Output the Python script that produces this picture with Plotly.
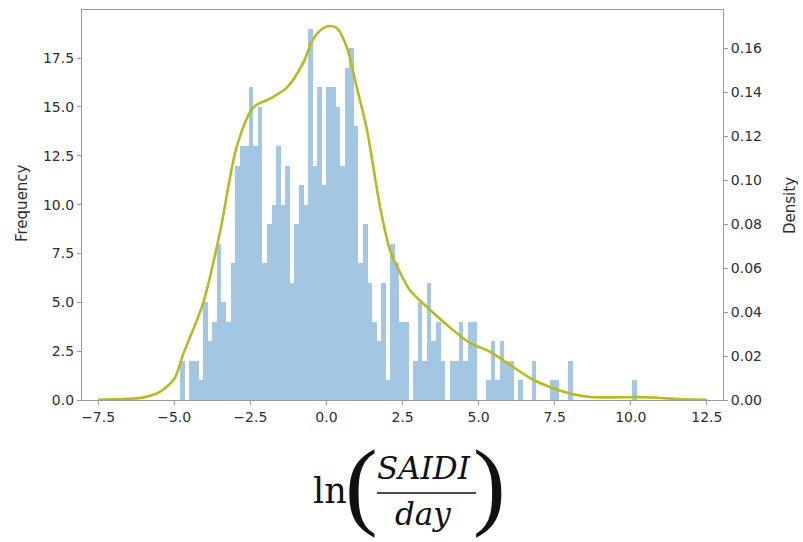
import plotly.graph_objects as go

# ---------------- data ----------------
bin_start = -4.8
bin_width = 0.15
counts = [2, 0, 2, 2, 1, 5, 3, 4, 8, 5,
          4, 7, 12, 13, 13, 16, 13, 15, 7, 9,
          10, 13, 10, 12, 6, 9, 11, 10, 19, 12,
          16, 11, 16, 16, 15, 12, 17, 18, 14, 7,
          9, 6, 4, 3, 6, 1, 8, 7, 4, 4,
          0, 2, 5, 2, 6, 3, 4, 2, 0, 2,
          2, 4, 2, 4, 4, 0, 0, 1, 3, 1,
          3, 2, 2, 0, 1, 0, 0, 2, 0, 0,
          0, 1, 1, 0, 0, 2, 0, 0, 0, 0,
          0, 0, 0, 0, 0, 0, 0, 0, 0, 1]

kde_x = [-7.5, -7.0, -6.5, -6.0, -5.5, -5.0, -4.7, -4.05, -3.5, -2.95,
         -2.4, -1.85, -1.3, -0.77, -0.44, -0.11, 0.12, 0.35, 0.68, 1.0,
         1.33, 1.76, 2.09, 2.42, 2.74, 3.4, 4.06, 4.71, 5.37, 6.03,
         6.69, 7.34, 8.0, 8.66, 9.3, 10.3, 11.0, 11.7, 12.5]
kde_y = [0.0001, 0.0003, 0.0005, 0.0012, 0.0035, 0.0095, 0.021, 0.044, 0.076, 0.115,
         0.133, 0.137, 0.142, 0.153, 0.164, 0.169, 0.170, 0.169, 0.160, 0.142,
         0.123, 0.088, 0.068, 0.058, 0.050, 0.041, 0.033, 0.026, 0.022, 0.016,
         0.010, 0.0059, 0.003, 0.0014, 0.0012, 0.0013, 0.0009, 0.0003, 0.0001]

x_ticks = [-7.5, -5.0, -2.5, 0.0, 2.5, 5.0, 7.5, 10.0, 12.5]
freq_ticks = [0.0, 2.5, 5.0, 7.5, 10.0, 12.5, 15.0, 17.5]
dens_ticks = [0.00, 0.02, 0.04, 0.06, 0.08, 0.10, 0.12, 0.14, 0.16]

# ---------------- figure ----------------
centers = [bin_start + bin_width * (i + 0.5) for i in range(len(counts))]

TXT = "#2e2e2e"
SPINE = "#9a9a9a"
W, H = 803, 542
L, R, T, B = 82, 723, 10, 400

fig = go.Figure()
fig.add_trace(go.Bar(x=centers, y=counts, width=bin_width,
                     marker=dict(color="#a3c6e3", line=dict(width=0)),
                     showlegend=False, hoverinfo="skip"))
fig.add_trace(go.Scatter(x=kde_x, y=kde_y, yaxis="y2", mode="lines",
                         line=dict(color="#b7bb1f", width=2.6, shape="spline", smoothing=0.8),
                         showlegend=False, hoverinfo="skip"))

axis_common = dict(showgrid=False, zeroline=False, ticks="outside", ticklen=4,
                   tickcolor=SPINE, tickwidth=1,
                   tickfont=dict(family="DejaVu Sans", size=14, color=TXT))

fig.update_layout(
    width=W, height=H,
    margin=dict(l=L, r=W - R, t=T, b=H - B),
    paper_bgcolor="white", plot_bgcolor="white",
    bargap=0,
    xaxis=dict(range=[-8.03, 13.03], tickvals=x_ticks,
               ticktext=[f"{v:.1f}".replace("-", "\u2212") for v in x_ticks],
               showline=True, linecolor=SPINE, linewidth=1.2, mirror=True,
               **axis_common),
    yaxis=dict(range=[0, 19.96], tickvals=freq_ticks,
               ticktext=[f"{v:.1f}" for v in freq_ticks],
               showline=True, linecolor=SPINE, linewidth=1.2, mirror=True,
               **axis_common),
    yaxis2=dict(range=[0, 0.1773], overlaying="y", side="right",
                tickvals=dens_ticks, ticktext=[f"{v:.2f}" for v in dens_ticks],
                showline=False, **axis_common),
)

def px(xp):
    return (xp - L) / (R - L)

def py(yp):
    return (B - yp) / (B - T)

ann = []
ann.append(dict(text="Frequency", x=px(22), y=py(203), xref="paper", yref="paper",
                textangle=-90, showarrow=False, xanchor="center", yanchor="middle",
                font=dict(family="DejaVu Sans", size=15, color=TXT)))
ann.append(dict(text="Density", x=px(790), y=py(205), xref="paper", yref="paper",
                textangle=-90, showarrow=False, xanchor="center", yanchor="middle",
                font=dict(family="DejaVu Sans", size=15, color=TXT)))

mathfont = "DejaVu Serif"
ann.append(dict(text="ln", x=px(330), y=py(491), xref="paper", yref="paper",
                showarrow=False, xanchor="center", yanchor="middle",
                font=dict(family=mathfont, size=35, color="#111111")))
ann.append(dict(text="(", x=px(361), y=py(484), xref="paper", yref="paper",
                showarrow=False, xanchor="center", yanchor="middle",
                font=dict(family="Liberation Serif", size=98, color="#111111")))
ann.append(dict(text=")", x=px(489), y=py(484), xref="paper", yref="paper",
                showarrow=False, xanchor="center", yanchor="middle",
                font=dict(family="Liberation Serif", size=98, color="#111111")))
ann.append(dict(text="<i>SAIDI</i>", x=px(424), y=py(468), xref="paper", yref="paper",
                showarrow=False, xanchor="center", yanchor="middle",
                font=dict(family=mathfont, size=31, color="#111111")))
ann.append(dict(text="<i>day</i>", x=px(423), y=py(514), xref="paper", yref="paper",
                showarrow=False, xanchor="center", yanchor="middle",
                font=dict(family=mathfont, size=31, color="#111111")))
fig.update_layout(annotations=ann)

fig.add_shape(type="line", xref="paper", yref="paper",
              x0=px(377), x1=px(476), y0=py(493), y1=py(493),
              line=dict(color="#111111", width=1.6))

fig.write_html("out.html", config={"displayModeBar": False},
               post_script="document.body.style.margin='0';document.body.style.padding='0';")
